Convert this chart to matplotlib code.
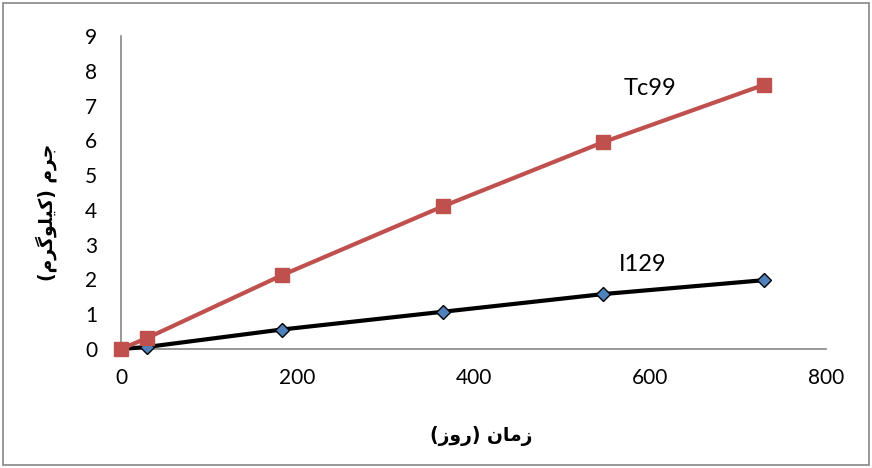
import matplotlib
matplotlib.use("Agg")
import matplotlib.pyplot as plt
from matplotlib.patches import Rectangle

# Data
days = [0, 30, 182.5, 365, 547.5, 730]
tc99 = [0, 0.32, 2.12, 4.1, 5.95, 7.6]
i129 = [0, 0.06, 0.56, 1.07, 1.58, 1.98]
xticks = [0, 200, 400, 600, 800]
yticks = list(range(0, 10))

# Persian labels (presentation forms, visual order)
xlabel = "(\uFEAF\uFEED\uFEAD) \uFEE5\uFE8E\uFEE3\uFEAF"        # زمان (روز)
ylabel = "(\uFEE1\uFEAE\uFB94\uFEEE\uFEE0\uFBFF\uFB90) \uFEE1\uFEAE\uFE9F"  # جرم (کیلوگرم)

plt.rcParams['font.family'] = ['Lato', 'DejaVu Sans']

fig = plt.figure(figsize=(8.72, 4.68), dpi=100)
ax = fig.add_axes([121/872, 1-349/468, (826-121)/872, (349-36)/468])

ax.plot(days, i129, color='black', lw=3, marker='D', ms=7.5,
        mfc='#4F81BD', mec='black', mew=1, zorder=3, clip_on=False)
ax.plot(days, tc99, color='#C0504D', lw=3, marker='s', ms=9.5,
        mfc='#C0504D', mec='#C0504D', zorder=4, clip_on=False)

ax.set_xlim(0, 800)
ax.set_ylim(0, 9)
ax.set_xticks(xticks)
ax.set_yticks(yticks)
ax.tick_params(length=0, labelsize=15)
ax.tick_params(axis='y', pad=17)
ax.tick_params(axis='x', pad=14)
for s in ['top', 'right']:
    ax.spines[s].set_visible(False)
for s in ['left', 'bottom']:
    ax.spines[s].set_color('#868686')
    ax.spines[s].set_linewidth(1.2)

ax.text(600, 7.5, 'Tc99', fontsize=17, ha='center', va='center')
ax.text(592, 2.42, 'I129', fontsize=17, ha='center', va='center')

fig.text(481/872, 1-436/468, xlabel, fontsize=13.5, fontweight='bold',
         family='DejaVu Sans', ha='center', va='center')
fig.text(46/872, 1-212/468, ylabel, fontsize=13.5, fontweight='bold',
         family='DejaVu Sans', ha='center', va='center', rotation=90)

fig.patches.append(Rectangle((3/872, 3/468), 866/872, 462/468, transform=fig.transFigure,
                             fill=False, edgecolor='#868686', lw=1.2))

fig.savefig('out.png', dpi=100)
